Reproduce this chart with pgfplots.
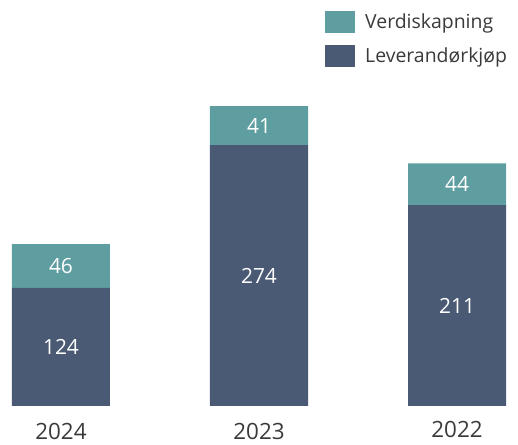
\documentclass[border=0pt]{standalone}
\usepackage{pgfplots}
\pgfplotsset{compat=1.18}
\usepackage{fontspec}
\setmainfont{Open Sans}
\definecolor{cTeal}{HTML}{5F9EA0}
\definecolor{cNavy}{HTML}{4A5A74}
\definecolor{cText}{HTML}{3A3A3A}
\tikzset{
  inlbl/.style={text=white, font=\fontsize{21}{25}\selectfont},
  yrlbl/.style={text=cText, font=\fontsize{22.5}{26}\selectfont, anchor=base, inner sep=0pt},
}
\begin{document}
\begin{tikzpicture}
\begin{axis}[
  scale only axis, width=518bp, height=445bp,
  xmin=-0.308, xmax=2.308, ymin=-40.97, ymax=426.5,
  axis line style={draw=none}, tick style={draw=none},
  xtick=\empty, ytick=\empty, clip=false,
  ybar stacked, bar width=0.495,
  every axis plot/.append style={draw=none},
  legend style={at={(325/518,1-11/445)}, anchor=north west, draw=none, fill=none,
    inner sep=0pt, row sep=12bp, font=\fontsize{19.5}{23}\selectfont, text=cText,
    nodes={inner sep=0pt}},
  legend cell align=left, reverse legend,
  legend image code/.code={\fill[#1,draw=none] (0bp,-11bp) rectangle (30bp,11bp);},
]
\addplot[fill=cNavy] coordinates {(0,124) (1,274) (2,211)};
\addlegendentry{\hspace{10bp}Leverandørkjøp}
\addplot[fill=cTeal] coordinates {(0,46) (1,41) (2,44)};
\addlegendentry{\hspace{10bp}Verdiskapning}
\coordinate (a1) at (axis cs:0,62);
\coordinate (a2) at (axis cs:0,147);
\coordinate (b1) at (axis cs:1,137);
\coordinate (b2) at (axis cs:1,294.5);
\coordinate (c1) at (axis cs:2,105.5);
\coordinate (c2) at (axis cs:2,233);
\coordinate (ya) at (axis cs:0,-35);
\coordinate (yb) at (axis cs:1,-35);
\coordinate (yc) at (axis cs:2,-33);
\end{axis}
\node[inlbl] at (a1) {124};
\node[inlbl] at (a2) {46};
\node[inlbl] at (b1) {274};
\node[inlbl] at (b2) {41};
\node[inlbl] at (c1) {211};
\node[inlbl] at (c2) {44};
\node[yrlbl] at (ya) {2024};
\node[yrlbl] at (yb) {2023};
\node[yrlbl] at (yc) {2022};
\end{tikzpicture}
\end{document}
